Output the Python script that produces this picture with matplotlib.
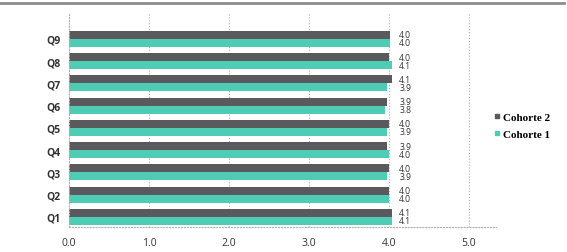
import matplotlib.pyplot as plt
from matplotlib.lines import Line2D
import numpy as np

questions = ['Q1', 'Q2', 'Q3', 'Q4', 'Q5', 'Q6', 'Q7', 'Q8', 'Q9']
cohorte2 = [4.04, 4.00, 4.00, 3.98, 4.00, 3.98, 4.04, 4.00, 4.01]
cohorte1 = [4.04, 4.00, 3.98, 4.00, 3.98, 3.95, 3.98, 4.04, 4.01]
labels2 = ['4.1', '4.0', '4.0', '3.9', '4.0', '3.9', '4.1', '4.0', '4.0']
labels1 = ['4.1', '4.0', '3.9', '4.0', '3.9', '3.8', '3.9', '4.1', '4.0']
xticks = [0, 1, 2, 3, 4, 5]

dark = '#5a5a5c'
teal = '#4ecdb4'
font = 'Open Sans'

fig = plt.figure(figsize=(5.67, 2.53), dpi=100)
ax = fig.add_axes([0.1217, 0.0988, 0.753, 0.842])

y = np.arange(len(questions))
h = 0.36
ax.barh(y + h / 2, cohorte2, height=h, color=dark)
ax.barh(y - h / 2, cohorte1, height=h, color=teal)

# value labels stacked at a fixed x to the right of the bars
for yi, l2, l1 in zip(y, labels2, labels1):
    ax.text(4.13, yi + h / 2, l2, fontsize=6.2, color='#333333', va='center', family=font)
    ax.text(4.13, yi - h / 2, l1, fontsize=6.2, color='#333333', va='center', family=font)

ax.set_xlim(0, 5.34)
ax.set_ylim(-0.45, 9.12)
ax.set_yticks(y)
ax.set_yticklabels(questions, fontsize=7.5, fontweight='bold', family=font, color='#333333')
ax.set_xticks(xticks)
ax.set_xticklabels([f'{v:.1f}' for v in xticks], fontsize=7.5, family=font, color='#333333')
ax.tick_params(axis='y', length=0, pad=6)
ax.tick_params(axis='x', length=0, pad=7)

for v in xticks[1:]:
    ax.axvline(v, color='#b0b0b0', linestyle=':', linewidth=0.8, zorder=0)
for s in ['top', 'right']:
    ax.spines[s].set_visible(False)
for s in ['left', 'bottom']:
    ax.spines[s].set_color('#b0b0b0')
    ax.spines[s].set_linestyle(':')
    ax.spines[s].set_linewidth(0.8)

# legend with small square markers, Cohorte 2 on top
handles = [Line2D([], [], marker='s', linestyle='', markersize=2.8, color=dark),
           Line2D([], [], marker='s', linestyle='', markersize=2.8, color=teal)]
fig.legend(handles, ['Cohorte 2', 'Cohorte 1'], loc='center left', bbox_to_anchor=(0.855, 0.5),
           frameon=False, handlelength=0.4, handletextpad=0.3,
           labelspacing=0.7, prop={'family': 'Liberation Serif', 'weight': 'bold', 'size': 8})

# gray rule along the top of the figure
fig.add_artist(Line2D([0.0, 0.995], [0.984, 0.984], color='#8c8c8c', linewidth=2,
                      transform=fig.transFigure))

fig.savefig('out.png', dpi=100)
